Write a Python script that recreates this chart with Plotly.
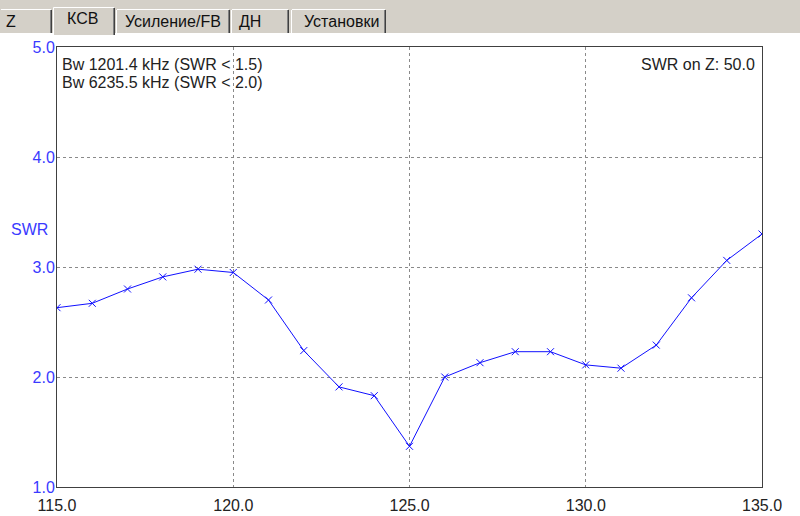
import plotly.graph_objects as go

# ---- data ----
freq_mhz = [115, 116, 117, 118, 119, 120, 121, 122, 123, 124, 125,
            126, 127, 128, 129, 130, 131, 132, 133, 134, 135]
swr = [2.63, 2.67, 2.80, 2.91, 2.98, 2.95, 2.70, 2.24, 1.91, 1.83, 1.37,
       2.00, 2.13, 2.23, 2.23, 2.11, 2.08, 2.29, 2.72, 3.06, 3.30]
x_ticks = [115, 120, 125, 130, 135]
x_tick_labels = ["115.0", "120.0", "125.0", "130.0", "135.0"]
y_ticks = [1, 2, 3, 4, 5]
y_tick_labels = ["1.0", "2.0", "3.0", "4.0", "5.0"]
tab_labels = ["Z", "КСВ", "Усиление/FB", "ДН", "Установки"]
info_lines = ["Bw 1201.4 kHz (SWR < 1.5)", "Bw 6235.5 kHz (SWR < 2.0)"]
swr_on_z = "SWR on Z: 50.0"

W, H = 800, 516
L, R, T, B = 57, 762, 47, 487
FONT = "Liberation Sans, Arial, sans-serif"


def px(x):
    return (x - L) / (R - L)


def py(y):
    return (B - y) / (B - T)


fig = go.Figure()
fig.add_trace(go.Scatter(
    x=freq_mhz, y=swr, mode="lines+markers",
    line=dict(color="#1010ff", width=1),
    marker=dict(symbol="x-thin", size=7, line=dict(color="#1010ff", width=1)),
    showlegend=False, hoverinfo="skip"))

shapes = []
# tab strip
shapes.append(dict(type="rect", xref="paper", yref="paper",
                   x0=px(0), x1=px(W), y0=py(34), y1=py(0),
                   fillcolor="#d4d0c8", line=dict(width=0), layer="above"))


def line(x0, y0, x1, y1, color):
    shapes.append(dict(type="line", xref="paper", yref="paper",
                       x0=px(x0), x1=px(x1), y0=py(y0), y1=py(y1),
                       line=dict(color=color, width=1), layer="above"))


# unselected tabs: (left, right)
for (a, b) in [(0, 52), (116, 230), (231, 289), (291, 386)]:
    line(a + 1, 9.5, b - 1, 9.5, "#ffffff")
    if a > 0:
        line(a + 0.5, 10, a + 0.5, 33, "#ffffff")
    line(b - 1.5, 10, b - 1.5, 33, "#808080")
    line(b - 0.5, 10, b - 0.5, 33, "#404040")
# bottom edge of tab strip
line(0, 33.5, 53, 33.5, "#ffffff")
line(115, 33.5, W, 33.5, "#ffffff")
# selected tab
shapes.append(dict(type="rect", xref="paper", yref="paper",
                   x0=px(53), x1=px(115), y0=py(35), y1=py(7),
                   fillcolor="#d4d0c8", line=dict(width=0), layer="above"))
line(53.5, 7.5, 53.5, 35, "#ffffff")
line(53.5, 7.5, 114, 7.5, "#ffffff")
line(113.5, 8, 113.5, 35, "#808080")
line(114.5, 8, 114.5, 35, "#404040")

annotations = []
tab_pos = [(11, 21), (82, 19), (173, 21), (250, 21), (341, 21)]
for lab, (cx, cy) in zip(tab_labels, tab_pos):
    annotations.append(dict(text=lab, xref="paper", yref="paper",
                            x=px(cx), y=py(cy), xanchor="center", yanchor="middle",
                            showarrow=False, font=dict(family=FONT, size=16, color="#111111")))

for i, t in enumerate(info_lines):
    annotations.append(dict(text=t, xref="paper", yref="paper",
                            x=px(60), y=py(64 + 18 * i), xanchor="left", yanchor="middle",
                            showarrow=False, font=dict(family=FONT, size=16, color="#222222")))
annotations.append(dict(text=swr_on_z, xref="paper", yref="paper",
                        x=px(757), y=py(64), xanchor="right", yanchor="middle",
                        showarrow=False, font=dict(family=FONT, size=16, color="#222222")))
annotations.append(dict(text="SWR", xref="paper", yref="paper",
                        x=px(9), y=py(229), xanchor="left", yanchor="middle",
                        showarrow=False, font=dict(family=FONT, size=16, color="#3a3aff")))

fig.update_layout(
    width=W, height=H,
    margin=dict(l=L, r=W - R, t=T, b=H - B, pad=0, autoexpand=False),
    paper_bgcolor="#ffffff", plot_bgcolor="#ffffff",
    shapes=shapes, annotations=annotations,
    font=dict(family=FONT, size=16),
    xaxis=dict(range=[115, 135], tickvals=x_ticks, ticktext=x_tick_labels,
               showgrid=True, gridcolor="#8a8a8a", griddash="dot", gridwidth=1,
               showline=True, linecolor="#404040", linewidth=1, mirror=True,
               zeroline=False, ticks="", tickfont=dict(color="#222222", size=16),
               ticklabelstandoff=4, automargin=False, fixedrange=True),
    yaxis=dict(range=[1, 5], tickvals=y_ticks, ticktext=y_tick_labels,
               showgrid=True, gridcolor="#8a8a8a", griddash="dot", gridwidth=1,
               showline=True, linecolor="#404040", linewidth=1, mirror=True,
               zeroline=False, ticks="", tickfont=dict(color="#3a3aff", size=16),
               ticklabelstandoff=-2, automargin=False, fixedrange=True),
)

fig.write_html("out.html", config={"displayModeBar": False},
               post_script="document.body.style.margin='0';document.body.style.overflow='hidden';")
